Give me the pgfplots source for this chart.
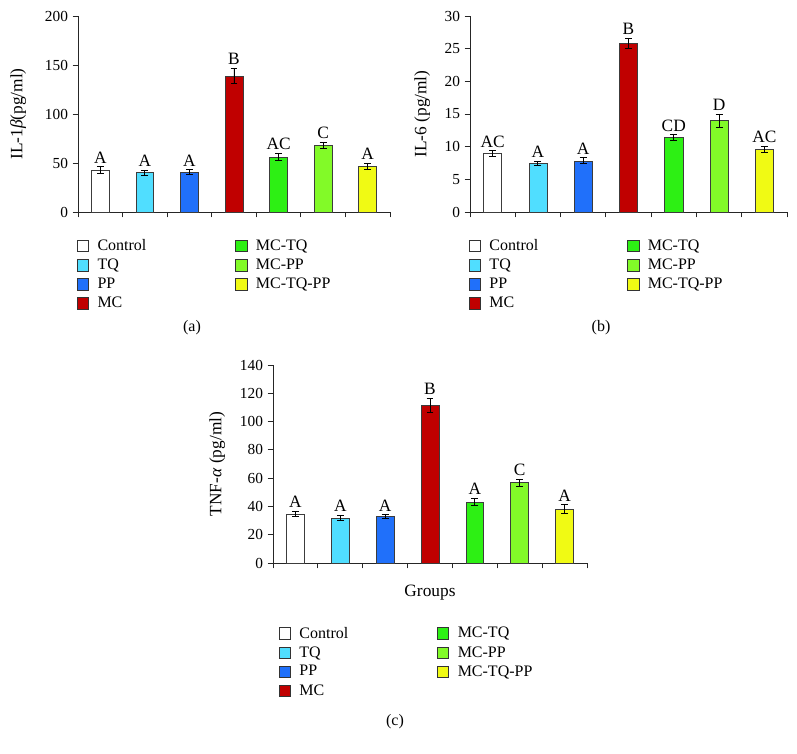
\documentclass[border=0pt]{standalone}
\usepackage{fontspec}
\setmainfont{Liberation Serif}
\usepackage{pgfplots}
\pgfplotsset{compat=1.18}
\definecolor{cCtrl}{RGB}{255,255,255}
\definecolor{cTQ}{RGB}{80,222,255}
\definecolor{cPP}{RGB}{32,112,250}
\definecolor{cMC}{RGB}{192,0,0}
\definecolor{cMCTQ}{RGB}{45,240,20}
\definecolor{cMCPP}{RGB}{130,250,40}
\definecolor{cMCTQPP}{RGB}{240,250,20}
\definecolor{edge}{RGB}{60,60,60}
\pgfplotsset{
  panel/.style={
    scale only axis, anchor=south west, clip=false,
    axis lines=left, axis line style={-, draw=black!85, line width=0.6pt},
    xmin=0.5, xmax=7.5, ymin=0,
    xtick={0.5,1.5,...,7.5}, xticklabels={},
    tick align=outside, major tick length=4pt,
    tick style={draw=black!85, line width=0.6pt},
    ybar, bar width=0.4,
    tick label style={font=\fontsize{11.5}{13}\selectfont},
    /pgf/number format/assume math mode=true,
    label style={font=\fontsize{13}{15}\selectfont},
    legend columns=2,
    legend cell align=left,
    legend style={draw=none, fill=none, inner sep=0pt, anchor=north west,
       font=\fontsize{12}{14}\selectfont, row sep=0.8pt,
       /tikz/every odd column/.append style={column sep=4.5pt},
       /tikz/every even column/.append style={column sep=64.5pt},
       nodes={inner sep=2pt}},
    legend image code/.code={\draw[##1, draw=black!80, line width=0.5pt] (0pt,-4.3pt) rectangle (8.6pt,4.3pt);},
    every axis plot/.append style={bar shift=0pt, draw=edge, line width=0.5pt},
  },
  eb/.style={error bars/.cd, y dir=both, y explicit,
     error bar style={black, line width=0.7pt},
     error mark options={rotate=90, mark size=2.6pt, black, line width=0.7pt}},
  letters/.style={draw=none, fill=none, forget plot, nodes near coords, point meta=explicit symbolic,
     every node near coord/.append style={font=\fontsize{13}{15}\selectfont, anchor=south, inner sep=2.5pt, black}},
}
\begin{document}
\begin{tikzpicture}
\useasboundingbox (0,0) rectangle (597.75pt,565.5pt);
% (a) IL-1beta
\begin{axis}[panel, at={(58.5pt,406.5pt)}, width=234pt, height=147pt,
  ymax=200, ytick={0,50,...,200},
  ylabel={IL-1\textit{β}(pg/ml)},
  ylabel style={at={(axis description cs:-0.192,0.5)}, anchor=center},
  legend style={at={(axis description cs:-0.005,-0.125)}}]
\addplot[fill=cCtrl, eb] coordinates {(1,42.9) +- (0,3.3)};
\addplot[fill=cMCTQ, eb] coordinates {(5,56.1) +- (0,3.7)};
\addplot[fill=cTQ, eb] coordinates {(2,40.1) +- (0,2.6)};
\addplot[fill=cMCPP, eb] coordinates {(6,67.7) +- (0,3.0)};
\addplot[fill=cPP, eb] coordinates {(3,40.8) +- (0,2.2)};
\addplot[fill=cMCTQPP, eb] coordinates {(7,46.3) +- (0,3.4)};
\addplot[fill=cMC, eb] coordinates {(4,138.8) +- (0,7.5)};
\addplot[letters] coordinates {(1,46.2)[A] (2,42.7)[A] (3,43.0)[A] (4,146.3)[B] (5,59.8)[AC] (6,70.7)[C] (7,49.7)[A]};
\legend{Control, MC-TQ, TQ, MC-PP, PP, MC-TQ-PP, MC}
\end{axis}
% (b) IL-6
\begin{axis}[panel, at={(352.5pt,406.5pt)}, width=237.75pt, height=147pt,
  ymax=30, ytick={0,5,...,30},
  ylabel={IL-6 (pg/ml)},
  ylabel style={at={(axis description cs:-0.151,0.5)}, anchor=center},
  legend style={at={(axis description cs:-0.005,-0.125)}}]
\addplot[fill=cCtrl, eb] coordinates {(1,8.95) +- (0,0.4)};
\addplot[fill=cMCTQ, eb] coordinates {(5,11.4) +- (0,0.4)};
\addplot[fill=cTQ, eb] coordinates {(2,7.42) +- (0,0.3)};
\addplot[fill=cMCPP, eb] coordinates {(6,14.0) +- (0,1.0)};
\addplot[fill=cPP, eb] coordinates {(3,7.83) +- (0,0.45)};
\addplot[fill=cMCTQPP, eb] coordinates {(7,9.6) +- (0,0.5)};
\addplot[fill=cMC, eb] coordinates {(4,25.8) +- (0,0.8)};
\addplot[letters] coordinates {(1,9.35)[AC] (2,7.72)[A] (3,8.28)[A] (4,26.6)[B] (5,11.8)[CD] (6,15.0)[D] (7,10.1)[AC]};
\legend{Control, MC-TQ, TQ, MC-PP, PP, MC-TQ-PP, MC}
\end{axis}
% (c) TNF-alpha
\begin{axis}[panel, at={(204.75pt,143.25pt)}, width=235.5pt, height=148.5pt,
  ymax=140, ytick={0,20,...,140},
  ylabel={TNF-\textit{α} (pg/ml)},
  ylabel style={at={(axis description cs:-0.178,0.5)}, anchor=center},
  xlabel={Groups},
  xlabel style={at={(axis description cs:0.5,-0.15)}, anchor=center},
  legend style={at={(axis description cs:0.017,-0.308)}}]
\addplot[fill=cCtrl, eb] coordinates {(1,34.6) +- (0,1.7)};
\addplot[fill=cMCTQ, eb] coordinates {(5,43.1) +- (0,2.4)};
\addplot[fill=cTQ, eb] coordinates {(2,31.8) +- (0,1.7)};
\addplot[fill=cMCPP, eb] coordinates {(6,56.7) +- (0,2.3)};
\addplot[fill=cPP, eb] coordinates {(3,32.9) +- (0,1.2)};
\addplot[fill=cMCTQPP, eb] coordinates {(7,38.1) +- (0,3.0)};
\addplot[fill=cMC, eb] coordinates {(4,111.3) +- (0,4.9)};
\addplot[letters] coordinates {(1,36.3)[A] (2,33.5)[A] (3,34.1)[A] (4,116.2)[B] (5,45.5)[A] (6,59.0)[C] (7,41.1)[A]};
\legend{Control, MC-TQ, TQ, MC-PP, PP, MC-TQ-PP, MC}
\end{axis}
\node[font=\fontsize{12}{14}\selectfont] at (144pt,319.5pt) {(a)};
\node[font=\fontsize{12}{14}\selectfont] at (450.75pt,319.5pt) {(b)};
\node[font=\fontsize{12}{14}\selectfont] at (296.25pt,24pt) {(c)};
\end{tikzpicture}
\end{document}
